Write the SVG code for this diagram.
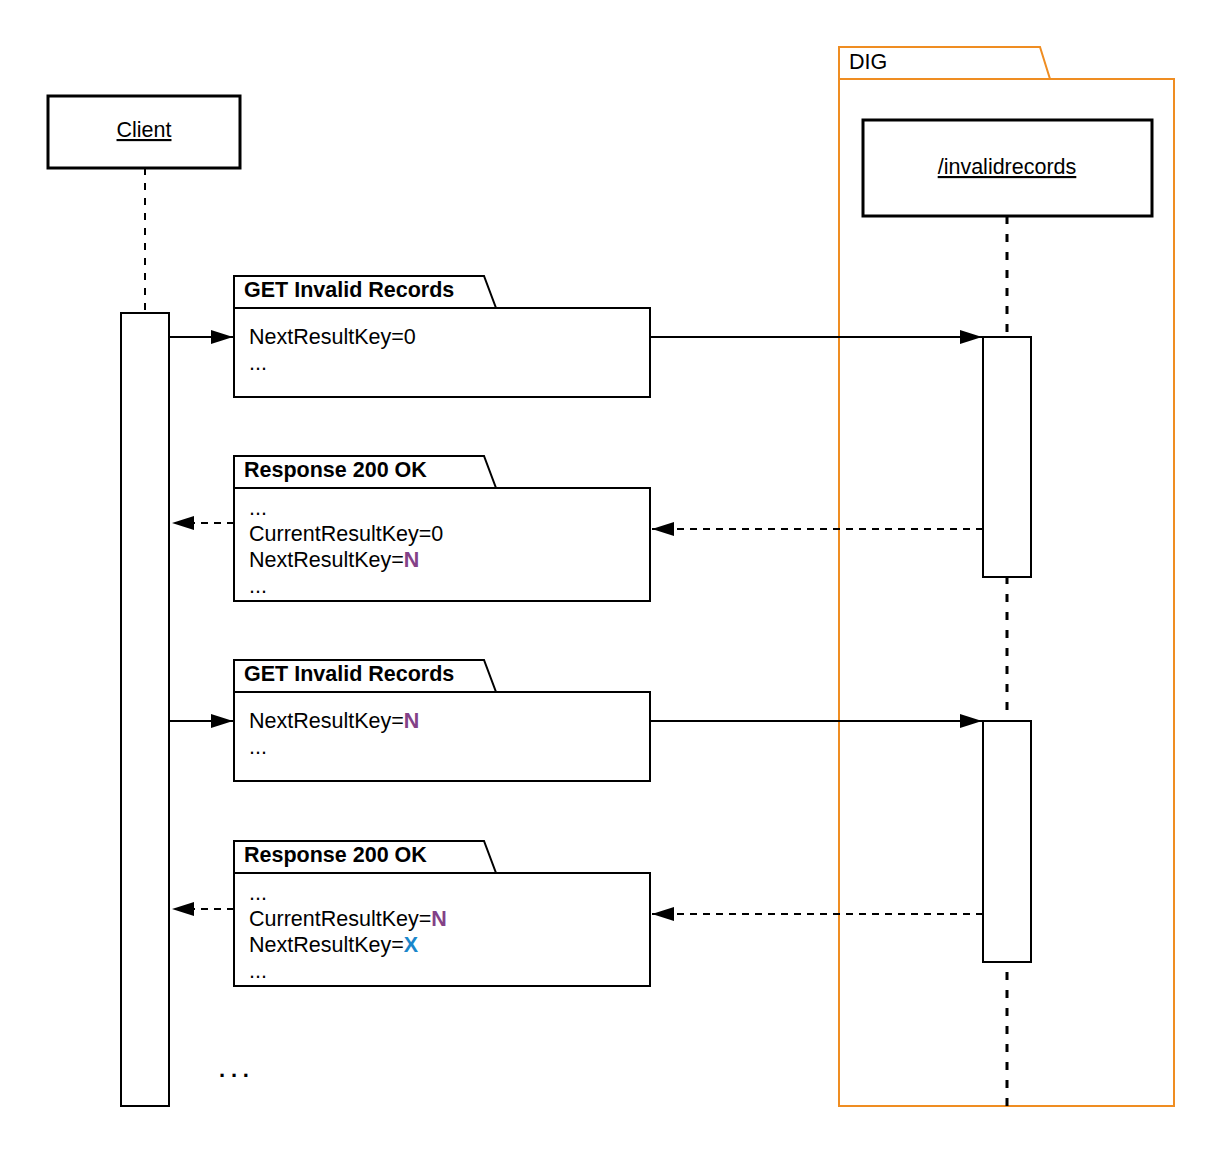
<svg xmlns="http://www.w3.org/2000/svg" width="1224" height="1154" viewBox="0 0 1224 1154">
<defs>
<style>
text{font-family:"Liberation Sans",Arial,sans-serif;fill:#000}
.body{font-size:21.5px}
.title{font-size:21.5px;font-weight:bold}
.name{font-size:21.5px;text-decoration:underline}
.box{fill:#fff;stroke:#000;stroke-width:2}
.obj{fill:#fff;stroke:#000;stroke-width:3}
.act{fill:#fff;stroke:#000;stroke-width:2}
.msg{fill:none;stroke:#000;stroke-width:2}
.ret{fill:none;stroke:#000;stroke-width:2;stroke-dasharray:7 6}
.life{fill:none;stroke:#000;stroke-width:2;stroke-dasharray:7 8}
.life2{fill:none;stroke:#000;stroke-width:3;stroke-dasharray:8 10}
.pkg{fill:#fff;stroke:#EF8D22;stroke-width:2}
.n{fill:#834187;font-weight:bold}
.x{fill:#1A87CB;font-weight:bold}
</style>
<marker id="ah" markerWidth="22" markerHeight="14" refX="22" refY="7" orient="auto" markerUnits="userSpaceOnUse">
<path d="M0,0 L22,7 L0,14 Z" fill="#000"/>
</marker>
</defs>
<rect width="1224" height="1154" fill="#fff"/>

<g id="dig">
<path class="pkg" d="M839,79 L839,47 L1040,47 L1050,79 Z"/>
<rect class="pkg" x="839" y="79" width="335" height="1027"/>
<text class="body" x="849" y="69">DIG</text>
</g>

<g id="lifelines">
<line class="life" x1="145" y1="168" x2="145" y2="313"/>
<line class="life2" x1="1007" y1="216" x2="1007" y2="1106"/>
</g>

<g id="client">
<rect class="obj" x="48" y="96" width="192" height="72"/>
<text class="name" x="144" y="137" text-anchor="middle">Client</text>
</g>

<g id="invalidrecords">
<rect class="obj" x="863" y="120" width="289" height="96"/>
<text class="name" x="1007" y="174" text-anchor="middle">/invalidrecords</text>
</g>

<g id="client-activation">
<rect class="act" x="121" y="313" width="48" height="793"/>
</g>

<g id="dig-activation-1">
<rect class="act" x="983" y="337" width="48" height="240"/>
</g>
<g id="dig-activation-2">
<rect class="act" x="983" y="721" width="48" height="241"/>
</g>

<g id="msg-get-1">
<path class="box" d="M234,308 L234,276 L484,276 L496,308 Z"/>
<rect class="box" x="234" y="308" width="416" height="89"/>
<text class="title" x="244" y="297">GET Invalid Records</text>
<text class="body" x="249" y="344">NextResultKey=0</text>
<text class="body" x="249" y="370">...</text>
</g>

<g id="msg-resp-1">
<path class="box" d="M234,488 L234,456 L484,456 L496,488 Z"/>
<rect class="box" x="234" y="488" width="416" height="113"/>
<text class="title" x="244" y="477">Response 200 OK</text>
<text class="body" x="249" y="515">...</text>
<text class="body" x="249" y="541">CurrentResultKey=0</text>
<text class="body" x="249" y="567">NextResultKey=<tspan class="n">N</tspan></text>
<text class="body" x="249" y="593">...</text>
</g>

<g id="msg-get-2">
<path class="box" d="M234,692 L234,660 L484,660 L496,692 Z"/>
<rect class="box" x="234" y="692" width="416" height="89"/>
<text class="title" x="244" y="681">GET Invalid Records</text>
<text class="body" x="249" y="728">NextResultKey=<tspan class="n">N</tspan></text>
<text class="body" x="249" y="754">...</text>
</g>

<g id="msg-resp-2">
<path class="box" d="M234,873 L234,841 L484,841 L496,873 Z"/>
<rect class="box" x="234" y="873" width="416" height="113"/>
<text class="title" x="244" y="862">Response 200 OK</text>
<text class="body" x="249" y="900">...</text>
<text class="body" x="249" y="926">CurrentResultKey=<tspan class="n">N</tspan></text>
<text class="body" x="249" y="952">NextResultKey=<tspan class="x">X</tspan></text>
<text class="body" x="249" y="978">...</text>
</g>

<g id="connectors">
<line class="msg" x1="169" y1="337" x2="233" y2="337" marker-end="url(#ah)"/>
<line class="msg" x1="650" y1="337" x2="982" y2="337" marker-end="url(#ah)"/>
<line class="ret" x1="234" y1="523" x2="172" y2="523" marker-end="url(#ah)"/>
<line class="ret" x1="983" y1="529" x2="652" y2="529" marker-end="url(#ah)"/>
<line class="msg" x1="169" y1="721" x2="233" y2="721" marker-end="url(#ah)"/>
<line class="msg" x1="650" y1="721" x2="982" y2="721" marker-end="url(#ah)"/>
<line class="ret" x1="234" y1="909" x2="172" y2="909" marker-end="url(#ah)"/>
<line class="ret" x1="983" y1="914" x2="652" y2="914" marker-end="url(#ah)"/>
</g>

<text x="219" y="1077" style="font-size:22px;font-weight:bold" letter-spacing="5.8">...</text>
</svg>
